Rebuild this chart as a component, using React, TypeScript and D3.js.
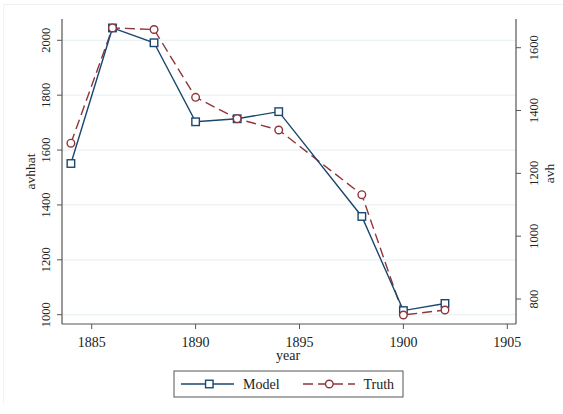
import * as d3 from 'd3';
import React, { useEffect, useRef } from 'react';

// chart data
const years = [1884, 1886, 1888, 1890, 1892, 1894, 1898, 1900, 1902];
const model = [1551, 2045, 1991, 1703, 1714, 1740, 1358, 1015, 1041]; // avhhat, left axis
const truth = [1296, 1663, 1658, 1442, 1374, 1338, 1132, 749, 765]; // avh, right axis
const xTicks = [1885, 1890, 1895, 1900, 1905];
const leftTicks = [1000, 1200, 1400, 1600, 1800, 2000];
const rightTicks = [800, 1000, 1200, 1400, 1600];

const W = 563;
const H = 414;
const NAVY = '#1a476f';
const MAROON = '#90353b';
const FONT = '"Liberation Serif", "Times New Roman", serif';

export default function App() {
    const svgRef = useRef<SVGSVGElement>(null);

    useEffect(() => {
        const svg = d3.select(svgRef.current);
        svg.selectAll('*').remove();

        const plotLeft = 62, plotRight = 516, plotTop = 19, plotBottom = 324;

        const x = d3.scaleLinear().domain([1885, 1905]).range([91.7, 507.3]);
        const yL = d3.scaleLinear().domain([1000, 2000]).range([314.7, 40.3]);
        const yR = d3.scaleLinear().domain([800, 1600]).range([299, 47.7]);

        svg.append('rect').attr('width', W).attr('height', H).attr('fill', '#fff');
        // faint outer frame of the graph region (top and left edges only show)
        svg.append('line').attr('x1', 3).attr('x2', W).attr('y1', 4.5).attr('y2', 4.5)
            .attr('stroke', '#f0f0f0').attr('stroke-width', 1);
        svg.append('line').attr('x1', 3.5).attr('x2', 3.5).attr('y1', 4.5).attr('y2', H - 10)
            .attr('stroke', '#f3f3f3').attr('stroke-width', 1);

        // gridlines from the left axis
        svg.append('g').selectAll('line').data(leftTicks).join('line')
            .attr('x1', plotLeft).attr('x2', plotRight)
            .attr('y1', d => yL(d)).attr('y2', d => yL(d))
            .attr('stroke', '#eaf2f3').attr('stroke-width', 1.2);

        const axisColor = '#555';

        // left axis
        const gL = svg.append('g');
        gL.append('line').attr('x1', plotLeft).attr('x2', plotLeft).attr('y1', plotTop).attr('y2', plotBottom)
            .attr('stroke', axisColor).attr('stroke-width', 1.2);
        gL.selectAll('line.tick').data(leftTicks).join('line').attr('class', 'tick')
            .attr('x1', plotLeft - 5).attr('x2', plotLeft)
            .attr('y1', d => yL(d)).attr('y2', d => yL(d))
            .attr('stroke', axisColor).attr('stroke-width', 1);
        gL.selectAll('text').data(leftTicks).join('text')
            .attr('transform', d => `translate(50,${yL(d)}) rotate(-90)`)
            .attr('text-anchor', 'middle')
            .attr('font-family', FONT).attr('font-size', 12.5).attr('fill', '#222')
            .text(d => d);
        svg.append('text')
            .attr('transform', `translate(35,${(plotTop + plotBottom) / 2}) rotate(-90)`)
            .attr('text-anchor', 'middle')
            .attr('font-family', FONT).attr('font-size', 13.5).attr('fill', '#222')
            .text('avhhat');

        // right axis
        const gR = svg.append('g');
        gR.append('line').attr('x1', plotRight).attr('x2', plotRight).attr('y1', plotTop).attr('y2', plotBottom)
            .attr('stroke', axisColor).attr('stroke-width', 1.2);
        gR.selectAll('line.tick').data(rightTicks).join('line').attr('class', 'tick')
            .attr('x1', plotRight).attr('x2', plotRight + 5)
            .attr('y1', d => yR(d)).attr('y2', d => yR(d))
            .attr('stroke', axisColor).attr('stroke-width', 1);
        gR.selectAll('text').data(rightTicks).join('text')
            .attr('transform', d => `translate(538,${yR(d)}) rotate(-90)`)
            .attr('text-anchor', 'middle')
            .attr('font-family', FONT).attr('font-size', 12.5).attr('fill', '#222')
            .text(d => d);
        svg.append('text')
            .attr('transform', `translate(554,${(plotTop + plotBottom) / 2 + 2}) rotate(-90)`)
            .attr('text-anchor', 'middle')
            .attr('font-family', FONT).attr('font-size', 13.5).attr('fill', '#222')
            .text('avh');

        // bottom axis
        const gB = svg.append('g');
        gB.append('line').attr('x1', plotLeft).attr('x2', plotRight).attr('y1', plotBottom).attr('y2', plotBottom)
            .attr('stroke', axisColor).attr('stroke-width', 1.2);
        gB.selectAll('line.tick').data(xTicks).join('line').attr('class', 'tick')
            .attr('x1', d => x(d)).attr('x2', d => x(d))
            .attr('y1', plotBottom).attr('y2', plotBottom + 5)
            .attr('stroke', axisColor).attr('stroke-width', 1);
        gB.selectAll('text').data(xTicks).join('text')
            .attr('x', d => x(d)).attr('y', 347)
            .attr('text-anchor', 'middle')
            .attr('font-family', FONT).attr('font-size', 14).attr('fill', '#222')
            .text(d => d);
        svg.append('text')
            .attr('x', 288).attr('y', 360)
            .attr('text-anchor', 'middle')
            .attr('font-family', FONT).attr('font-size', 14).attr('fill', '#222')
            .text('year');

        // series
        const modelPts: [number, number][] = years.map((yr, i) => [x(yr), yL(model[i])]);
        const truthPts: [number, number][] = years.map((yr, i) => [x(yr), yR(truth[i])]);
        const line = d3.line();

        svg.append('path').attr('d', line(truthPts))
            .attr('fill', 'none').attr('stroke', MAROON).attr('stroke-width', 1.4)
            .attr('stroke-dasharray', '10,5');
        svg.append('path').attr('d', line(modelPts))
            .attr('fill', 'none').attr('stroke', NAVY).attr('stroke-width', 1.4);

        const sq = 7.5;
        svg.append('g').selectAll('rect').data(modelPts).join('rect')
            .attr('x', d => d[0] - sq / 2).attr('y', d => d[1] - sq / 2)
            .attr('width', sq).attr('height', sq)
            .attr('fill', '#fff').attr('stroke', NAVY).attr('stroke-width', 1.4);
        svg.append('g').selectAll('circle').data(truthPts).join('circle')
            .attr('cx', d => d[0]).attr('cy', d => d[1]).attr('r', 3.8)
            .attr('fill', '#fff').attr('stroke', MAROON).attr('stroke-width', 1.4);

        // legend
        const lg = svg.append('g');
        lg.append('rect').attr('x', 174).attr('y', 371).attr('width', 229).attr('height', 26)
            .attr('fill', '#fff').attr('stroke', '#555').attr('stroke-width', 1);
        const ly = 384;
        lg.append('line').attr('x1', 181).attr('x2', 234).attr('y1', ly).attr('y2', ly)
            .attr('stroke', NAVY).attr('stroke-width', 1.4);
        lg.append('rect').attr('x', 209.3 - sq / 2).attr('y', ly - sq / 2).attr('width', sq).attr('height', sq)
            .attr('fill', '#fff').attr('stroke', NAVY).attr('stroke-width', 1.4);
        lg.append('text').attr('x', 243).attr('y', ly + 5)
            .attr('font-family', FONT).attr('font-size', 14).attr('fill', '#222').text('Model');
        lg.append('line').attr('x1', 303).attr('x2', 355).attr('y1', ly).attr('y2', ly)
            .attr('stroke', MAROON).attr('stroke-width', 1.4).attr('stroke-dasharray', '10,5');
        lg.append('circle').attr('cx', 329.3).attr('cy', ly).attr('r', 3.8)
            .attr('fill', '#fff').attr('stroke', MAROON).attr('stroke-width', 1.4);
        lg.append('text').attr('x', 363.5).attr('y', ly + 5)
            .attr('font-family', FONT).attr('font-size', 14).attr('fill', '#222').text('Truth');
    }, []);

    return (
        <svg ref={svgRef} width={W} height={H}
            style={{ position: 'absolute', left: 0, top: 0, display: 'block' }} />
    );
}
